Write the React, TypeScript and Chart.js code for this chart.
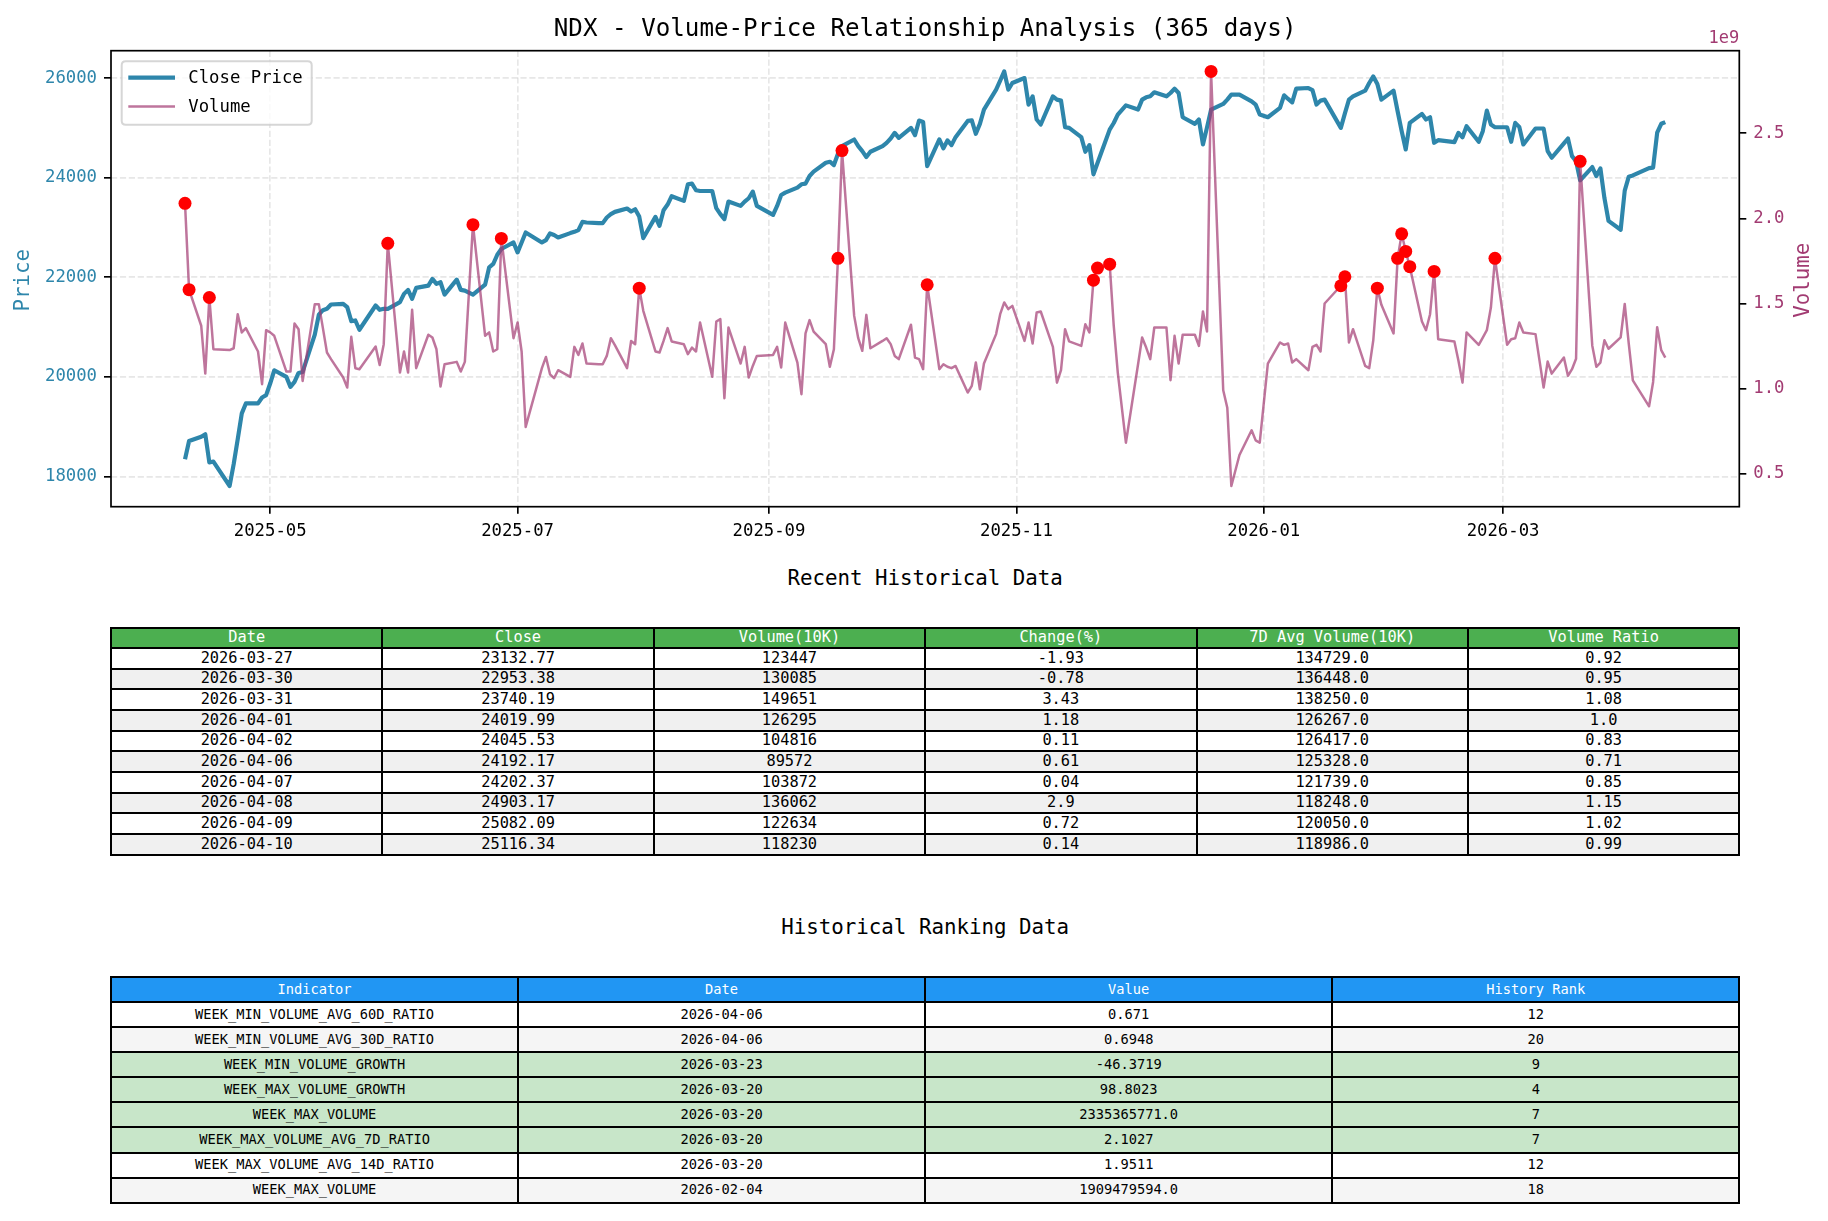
import React, { useEffect, useRef } from 'react';
import { Chart, registerables } from 'chart.js';

Chart.register(...registerables);

const FONT = '"DejaVu Sans Mono", "Liberation Mono", monospace';
const PRICE_COLOR = '#2E86AB';
const VOLUME_COLOR = '#A23B72';
const VOLUME_LINE = 'rgba(162,59,114,0.7)';
const GRID_COLOR = 'rgba(176,176,176,0.3)';

// ---------- chart data ----------
const dates = [
  '2025-04-10','2025-04-11','2025-04-14','2025-04-15','2025-04-16','2025-04-17','2025-04-21','2025-04-22','2025-04-23','2025-04-24','2025-04-25','2025-04-28','2025-04-29','2025-04-30',
  '2025-05-01','2025-05-02','2025-05-05','2025-05-06','2025-05-07','2025-05-08','2025-05-09','2025-05-12','2025-05-13','2025-05-14','2025-05-15','2025-05-16','2025-05-19','2025-05-20','2025-05-21','2025-05-22','2025-05-23','2025-05-27','2025-05-28','2025-05-29','2025-05-30',
  '2025-06-02','2025-06-03','2025-06-04','2025-06-05','2025-06-06','2025-06-09','2025-06-10','2025-06-11','2025-06-12','2025-06-13','2025-06-16','2025-06-17','2025-06-18','2025-06-20','2025-06-23','2025-06-24','2025-06-25','2025-06-26','2025-06-27','2025-06-30',
  '2025-07-01','2025-07-02','2025-07-03','2025-07-07','2025-07-08','2025-07-09','2025-07-10','2025-07-11','2025-07-14','2025-07-15','2025-07-16','2025-07-17','2025-07-18','2025-07-21','2025-07-22','2025-07-23','2025-07-24','2025-07-25','2025-07-28','2025-07-29','2025-07-30','2025-07-31',
  '2025-08-01','2025-08-04','2025-08-05','2025-08-06','2025-08-07','2025-08-08','2025-08-11','2025-08-12','2025-08-13','2025-08-14','2025-08-15','2025-08-18','2025-08-19','2025-08-20','2025-08-21','2025-08-22','2025-08-25','2025-08-26','2025-08-27','2025-08-28','2025-08-29',
  '2025-09-02','2025-09-03','2025-09-04','2025-09-05','2025-09-08','2025-09-09','2025-09-10','2025-09-11','2025-09-12','2025-09-15','2025-09-16','2025-09-17','2025-09-18','2025-09-19','2025-09-22','2025-09-23','2025-09-24','2025-09-25','2025-09-26','2025-09-29','2025-09-30',
  '2025-10-01','2025-10-02','2025-10-03','2025-10-06','2025-10-07','2025-10-08','2025-10-09','2025-10-10','2025-10-13','2025-10-14','2025-10-15','2025-10-16','2025-10-17','2025-10-20','2025-10-21','2025-10-22','2025-10-23','2025-10-24','2025-10-27','2025-10-28','2025-10-29','2025-10-30','2025-10-31',
  '2025-11-03','2025-11-04','2025-11-05','2025-11-06','2025-11-07','2025-11-10','2025-11-11','2025-11-12','2025-11-13','2025-11-14','2025-11-17','2025-11-18','2025-11-19','2025-11-20','2025-11-21','2025-11-24','2025-11-25','2025-11-26','2025-11-28',
  '2025-12-01','2025-12-02','2025-12-03','2025-12-04','2025-12-05','2025-12-08','2025-12-09','2025-12-10','2025-12-11','2025-12-12','2025-12-15','2025-12-16','2025-12-17','2025-12-18','2025-12-19','2025-12-22','2025-12-23','2025-12-24','2025-12-26','2025-12-29','2025-12-30','2025-12-31',
  '2026-01-02','2026-01-05','2026-01-06','2026-01-07','2026-01-08','2026-01-09','2026-01-12','2026-01-13','2026-01-14','2026-01-15','2026-01-16','2026-01-20','2026-01-21','2026-01-22','2026-01-23','2026-01-26','2026-01-27','2026-01-28','2026-01-29','2026-01-30',
  '2026-02-02','2026-02-03','2026-02-04','2026-02-05','2026-02-06','2026-02-09','2026-02-10','2026-02-11','2026-02-12','2026-02-13','2026-02-17','2026-02-18','2026-02-19','2026-02-20','2026-02-23','2026-02-24','2026-02-25','2026-02-26','2026-02-27',
  '2026-03-02','2026-03-03','2026-03-04','2026-03-05','2026-03-06','2026-03-09','2026-03-10','2026-03-11','2026-03-12','2026-03-13','2026-03-16','2026-03-17','2026-03-18','2026-03-19','2026-03-20','2026-03-23','2026-03-24','2026-03-25','2026-03-26','2026-03-27','2026-03-30','2026-03-31',
  '2026-04-01','2026-04-02','2026-04-06','2026-04-07','2026-04-08','2026-04-09','2026-04-10',
];

const closes = [
  18347, 18713, 18800, 18849, 18281, 18300, 17810, 18247, 18750, 19267, 19467, 19467, 19587, 19633,
  19867, 20133, 20000, 19800, 19900, 20080, 20100, 20850, 21250, 21340, 21367, 21453, 21467, 21400, 21120, 21133, 20947, 21433, 21347, 21367, 21367,
  21500, 21667, 21747, 21567, 21787, 21833, 21967, 21867, 21900, 21653, 21953, 21747, 21733, 21653, 21853, 22200, 22267, 22453, 22567, 22700,
  22500, 22700, 22900, 22700, 22747, 22880, 22850, 22800, 22887, 22913, 22947, 23113, 23100, 23087, 23087, 23200, 23267, 23313, 23380, 23320, 23367, 23220,
  22787, 23213, 23033, 23347, 23460, 23628, 23533, 23867, 23880, 23747, 23733, 23733, 23387, 23267, 23167, 23520, 23433, 23520, 23587, 23720, 23433,
  23253, 23433, 23653, 23700, 23800, 23867, 23880, 24033, 24120, 24300, 24320, 24253, 24480, 24633, 24767, 24633, 24533, 24413, 24520, 24633, 24700,
  24787, 24900, 24800, 25000, 24853, 25147, 25120, 24233, 24767, 24587, 24747, 24653, 24813, 25140, 25150, 24880, 25080, 25367, 25767, 25947, 26133, 25767, 25900,
  26000, 25467, 25633, 25167, 25067, 25633, 25567, 25547, 25013, 25000, 24813, 24520, 24653, 24067, 24295, 24964, 25097, 25265, 25452,
  25367, 25567, 25613, 25633, 25713, 25633, 25700, 25787, 25700, 25213, 25080, 25167, 24667, 25010, 25365, 25480, 25567, 25667, 25667, 25533, 25467, 25267,
  25213, 25400, 25653, 25580, 25513, 25787, 25800, 25760, 25467, 25547, 25567, 25000, 25290, 25567, 25633, 25747, 25900, 26033, 25880, 25567,
  25747, 25333, 24933, 24567, 25100, 25280, 25167, 25213, 24700, 24753, 24713, 24900, 24810, 25033, 24720, 24933, 25347, 25067, 25013,
  25013, 24720, 25100, 25020, 24667, 24987, 24987, 24987, 24533, 24400, 24690, 24787, 24433, 24333, 23947, 24213, 24033, 24187, 23588, 23132.77, 22953.38, 23740.19,
  24019.99, 24045.53, 24192.17, 24202.37, 24903.17, 25082.09, 25116.34,
];

// volume in units of 1e9 shares
const volumes = [
  2.088, 1.581, 1.369, 1.088, 1.535, 1.231, 1.226, 1.237, 1.437, 1.330, 1.355, 1.218, 1.026, 1.343,
  1.330, 1.310, 1.100, 1.100, 1.382, 1.349, 1.045, 1.496, 1.496, 1.355, 1.212, 1.173, 1.065, 1.006, 1.304, 1.120, 1.114, 1.247, 1.139, 1.261, 1.853,
  1.094, 1.218, 1.094, 1.463, 1.120, 1.316, 1.300, 1.231, 1.012, 1.143, 1.157, 1.100, 1.157, 1.963, 1.310, 1.330, 1.218, 1.231, 1.882, 1.296,
  1.388, 1.218, 0.775, 1.120, 1.186, 1.084, 1.061, 1.108, 1.069, 1.245, 1.198, 1.265, 1.147, 1.143, 1.143, 1.192, 1.296, 1.255, 1.120, 1.280, 1.261, 1.590,
  1.457, 1.218, 1.212, 1.280, 1.355, 1.277, 1.261, 1.202, 1.241, 1.218, 1.388, 1.069, 1.394, 1.408, 0.943, 1.359, 1.147, 1.245, 1.065, 1.133, 1.192,
  1.198, 1.245, 1.124, 1.388, 1.153, 0.967, 1.324, 1.402, 1.335, 1.261, 1.128, 1.231, 1.765, 2.398, 1.427, 1.296, 1.222, 1.433, 1.237, 1.280, 1.296,
  1.261, 1.192, 1.173, 1.375, 1.182, 1.173, 1.114, 1.610, 1.114, 1.143, 1.128, 1.120, 1.133, 0.977, 1.016, 1.153, 0.996, 1.147, 1.320, 1.437, 1.506, 1.467, 1.486,
  1.280, 1.388, 1.265, 1.447, 1.453, 1.245, 1.035, 1.108, 1.349, 1.277, 1.251, 1.378, 1.330, 1.637, 1.708, 1.731, 1.370, 1.094, 0.682,
  1.143, 1.300, 1.241, 1.173, 1.359, 1.359, 1.049, 1.310, 1.147, 1.316, 1.316, 1.251, 1.453, 1.335, 2.863, 0.990, 0.888, 0.428, 0.610, 0.755, 0.696, 0.682,
  1.147, 1.271, 1.257, 1.265, 1.153, 1.173, 1.108, 1.245, 1.257, 1.218, 1.500, 1.604, 1.657, 1.271, 1.349, 1.133, 1.120, 1.284, 1.590, 1.492,
  1.324, 1.765, 1.909, 1.806, 1.716, 1.394, 1.343, 1.437, 1.688, 1.290, 1.277, 1.163, 1.035, 1.330, 1.257, 1.300, 1.343, 1.476, 1.765,
  1.257, 1.290, 1.296, 1.388, 1.330, 1.320, 1.163, 1.006, 1.159, 1.088, 1.182, 1.075, 1.114, 1.175, 2.335, 1.252, 1.128, 1.153, 1.284, 1.234, 1.301, 1.497,
  1.263, 1.048, 0.896, 1.039, 1.361, 1.226, 1.182,
];

const anomalyDates = [
  '2025-04-10','2025-04-11','2025-04-16','2025-05-30','2025-06-20','2025-06-27','2025-07-31','2025-09-18','2025-09-19','2025-10-10',
  '2025-11-20','2025-11-21','2025-11-24','2025-12-19','2026-01-20','2026-01-21','2026-01-29','2026-02-03','2026-02-04','2026-02-05',
  '2026-02-06','2026-02-12','2026-02-27','2026-03-20',
];

const xTickLabels = ['2025-05', '2025-07', '2025-09', '2025-11', '2026-01', '2026-03'];
const priceTicks = [18000, 20000, 22000, 24000, 26000];
const volumeTicks = [0.5, 1.0, 1.5, 2.0, 2.5];

// ---------- table data ----------
const recentHeaders = ['Date', 'Close', 'Volume(10K)', 'Change(%)', '7D Avg Volume(10K)', 'Volume Ratio'];
const recentDates = ['2026-03-27','2026-03-30','2026-03-31','2026-04-01','2026-04-02','2026-04-06','2026-04-07','2026-04-08','2026-04-09','2026-04-10'];
const recentCloses = ['23132.77','22953.38','23740.19','24019.99','24045.53','24192.17','24202.37','24903.17','25082.09','25116.34'];
const recentVolumes = ['123447','130085','149651','126295','104816','89572','103872','136062','122634','118230'];
const recentChanges = ['-1.93','-0.78','3.43','1.18','0.11','0.61','0.04','2.9','0.72','0.14'];
const recentAvgVolumes = ['134729.0','136448.0','138250.0','126267.0','126417.0','125328.0','121739.0','118248.0','120050.0','118986.0'];
const recentRatios = ['0.92','0.95','1.08','1.0','0.83','0.71','0.85','1.15','1.02','0.99'];

const rankHeaders = ['Indicator', 'Date', 'Value', 'History Rank'];
const rankIndicators = ['WEEK_MIN_VOLUME_AVG_60D_RATIO','WEEK_MIN_VOLUME_AVG_30D_RATIO','WEEK_MIN_VOLUME_GROWTH','WEEK_MAX_VOLUME_GROWTH','WEEK_MAX_VOLUME','WEEK_MAX_VOLUME_AVG_7D_RATIO','WEEK_MAX_VOLUME_AVG_14D_RATIO','WEEK_MAX_VOLUME'];
const rankDates = ['2026-04-06','2026-04-06','2026-03-23','2026-03-20','2026-03-20','2026-03-20','2026-03-20','2026-02-04'];
const rankValues = ['0.671','0.6948','-46.3719','98.8023','2335365771.0','2.1027','1.9511','1909479594.0'];
const rankRanks = ['12','20','9','4','7','7','12','18'];

// ---------- helpers ----------
const dayNum = (s: string) => Date.parse(s + 'T00:00:00Z') / 86400000;

const CANVAS_W = 1828;
const CANVAS_H = 560;
const PLOT = { left: 111, top: 50.7, right: 1739.3, bottom: 506.7 };

function margins(vals: number[], frac = 0.05) {
  const mn = Math.min(...vals);
  const mx = Math.max(...vals);
  const pad = (mx - mn) * frac;
  return [mn - pad, mx + pad];
}

const decorPlugin = {
  id: 'decor',
  afterDatasetsDraw(chart: any) {
    const { ctx, chartArea: a } = chart;
    ctx.save();
    ctx.strokeStyle = '#000';
    ctx.lineWidth = 1.7;
    ctx.strokeRect(a.left, a.top, a.right - a.left, a.bottom - a.top);
    ctx.restore();
  },
  afterDraw(chart: any) {
    const { ctx, chartArea: a } = chart;
    ctx.save();
    // axis titles
    ctx.font = `20.8px ${FONT}`;
    ctx.textAlign = 'center';
    ctx.textBaseline = 'middle';
    const midY = (a.top + a.bottom) / 2 + 1.5;
    ctx.fillStyle = PRICE_COLOR;
    ctx.save();
    ctx.translate(24, midY);
    ctx.rotate(-Math.PI / 2);
    ctx.fillText('Price', 0, 0);
    ctx.restore();
    ctx.fillStyle = VOLUME_COLOR;
    ctx.save();
    ctx.translate(1804, midY);
    ctx.rotate(-Math.PI / 2);
    ctx.fillText('Volume', 0, 0);
    ctx.restore();
    // offset text
    ctx.font = `17px ${FONT}`;
    ctx.textAlign = 'right';
    ctx.fillStyle = VOLUME_COLOR;
    ctx.fillText('1e9', a.right, 38.5);

    // legend
    const lx = a.left + 10.7;
    const ly = a.top + 10.6;
    const lw = 190;
    const lh = 63.4;
    const r = 4;
    ctx.beginPath();
    ctx.moveTo(lx + r, ly);
    ctx.lineTo(lx + lw - r, ly);
    ctx.quadraticCurveTo(lx + lw, ly, lx + lw, ly + r);
    ctx.lineTo(lx + lw, ly + lh - r);
    ctx.quadraticCurveTo(lx + lw, ly + lh, lx + lw - r, ly + lh);
    ctx.lineTo(lx + r, ly + lh);
    ctx.quadraticCurveTo(lx, ly + lh, lx, ly + lh - r);
    ctx.lineTo(lx, ly + r);
    ctx.quadraticCurveTo(lx, ly, lx + r, ly);
    ctx.closePath();
    ctx.fillStyle = 'rgba(255,255,255,0.8)';
    ctx.fill();
    ctx.strokeStyle = 'rgba(204,204,204,0.8)';
    ctx.lineWidth = 2;
    ctx.stroke();

    const ds = chart.data.datasets;
    const items = [ds[0], ds[1]];
    const rowsY = [ly + 16.4, ly + 45.2];
    items.forEach((d: any, i: number) => {
      ctx.beginPath();
      ctx.strokeStyle = d.borderColor;
      ctx.lineWidth = d.borderWidth;
      ctx.lineCap = 'butt';
      ctx.moveTo(lx + 6.6, rowsY[i]);
      ctx.lineTo(lx + 53.3, rowsY[i]);
      ctx.stroke();
      ctx.font = `17.3px ${FONT}`;
      ctx.fillStyle = '#000';
      ctx.textAlign = 'left';
      ctx.textBaseline = 'middle';
      ctx.fillText(d.label, lx + 66.6, rowsY[i] + 1);
    });
    ctx.restore();
  },
};

function buildConfig(): any {
  const pricePoints = dates.map((d, i) => ({ x: dayNum(d), y: closes[i] }));
  const volumePoints = dates.map((d, i) => ({ x: dayNum(d), y: volumes[i] }));
  const anomalyPoints = anomalyDates.map((d) => ({ x: dayNum(d), y: volumes[dates.indexOf(d)] }));
  const [xMin, xMax] = margins(dates.map(dayNum));
  const [pMin, pMax] = margins(closes);
  const [vMin, vMax] = margins(volumes);

  const tickFont = { family: FONT, size: 17.3 };
  const gridBase = {
    color: GRID_COLOR,
    lineWidth: 1.67,
    tickColor: '#000',
    tickLength: 7,
    tickWidth: 1.67,
  };
  const borderBase = { display: false, dash: [6.2, 2.7] };

  return {
    type: 'line',
    data: {
      datasets: [
        {
          label: 'Close Price',
          data: pricePoints,
          yAxisID: 'y',
          borderColor: PRICE_COLOR,
          borderWidth: 4.17,
          pointRadius: 0,
          tension: 0,
          borderJoinStyle: 'round',
          order: 3,
        },
        {
          label: 'Volume',
          data: volumePoints,
          yAxisID: 'y1',
          borderColor: VOLUME_LINE,
          borderWidth: 2.5,
          pointRadius: 0,
          tension: 0,
          borderJoinStyle: 'round',
          order: 2,
        },
        {
          label: 'Anomaly',
          type: 'scatter',
          data: anomalyPoints,
          yAxisID: 'y1',
          backgroundColor: '#ff0000',
          borderWidth: 0,
          pointRadius: 6.5,
          showLine: false,
          order: 1,
        },
      ],
    },
    options: {
      animation: false,
      responsive: false,
      maintainAspectRatio: false,
      devicePixelRatio: 1,
      events: [],
      layout: { padding: { top: PLOT.top, left: 0, right: 0, bottom: 0 } },
      plugins: {
        legend: { display: false },
        tooltip: { enabled: false },
        title: { display: false },
      },
      scales: {
        x: {
          type: 'linear',
          position: 'bottom',
          min: xMin,
          max: xMax,
          afterBuildTicks: (s: any) => {
            s.ticks = xTickLabels.map((l) => ({ value: dayNum(l + '-01') }));
          },
          afterFit: (s: any) => {
            s.height = CANVAS_H - PLOT.bottom;
          },
          ticks: {
            font: tickFont,
            color: '#000',
            padding: 7,
            maxRotation: 0,
            autoSkip: false,
            callback: (_v: any, i: number) => xTickLabels[i],
          },
          grid: { ...gridBase },
          border: { ...borderBase },
        },
        y: {
          type: 'linear',
          position: 'left',
          min: pMin,
          max: pMax,
          afterBuildTicks: (s: any) => {
            s.ticks = priceTicks.map((v) => ({ value: v }));
          },
          afterFit: (s: any) => {
            s.width = PLOT.left;
          },
          ticks: {
            font: tickFont,
            color: PRICE_COLOR,
            padding: 7,
            callback: (v: any) => String(v),
          },
          grid: { ...gridBase },
          border: { ...borderBase },
        },
        y1: {
          type: 'linear',
          position: 'right',
          min: vMin,
          max: vMax,
          afterBuildTicks: (s: any) => {
            s.ticks = volumeTicks.map((v) => ({ value: v }));
          },
          afterFit: (s: any) => {
            s.width = CANVAS_W - PLOT.right;
          },
          ticks: {
            font: tickFont,
            color: VOLUME_COLOR,
            padding: 7,
            callback: (v: any) => Number(v).toFixed(1),
          },
          grid: { ...gridBase, drawOnChartArea: false },
          border: { ...borderBase },
        },
      },
    },
    plugins: [decorPlugin],
  };
}

type TableProps = {
  top: number;
  rowH: number;
  headers: string[];
  columns: string[][];
  headerBg: string;
  rowBg: (r: number) => string;
  fontSize: number;
};

function GridTable({ top, rowH, headers, columns, headerBg, rowBg, fontSize }: TableProps) {
  const left = PLOT.left;
  const width = PLOT.right - PLOT.left;
  const nCols = headers.length;
  const colW = width / nCols;
  const nRows = columns[0].length;
  const cells: any[] = [];
  const mk = (r: number, c: number, text: string, bg: string, color: string) => (
    <div
      key={`${r}-${c}`}
      style={{
        position: 'absolute',
        left: left + c * colW - 1,
        top: top + r * rowH - 1,
        width: colW + 2,
        height: rowH + 2,
        boxSizing: 'border-box',
        border: '2px solid #000',
        background: bg,
        color,
        display: 'flex',
        alignItems: 'center',
        justifyContent: 'center',
        fontSize,
        lineHeight: 1,
        whiteSpace: 'nowrap',
      }}
    >
      {text}
    </div>
  );
  headers.forEach((h, c) => cells.push(mk(0, c, h, headerBg, '#fff')));
  for (let r = 0; r < nRows; r++) {
    for (let c = 0; c < nCols; c++) {
      cells.push(mk(r + 1, c, columns[c][r], rowBg(r), '#000'));
    }
  }
  return <>{cells}</>;
}

export default function App() {
  const canvasRef = useRef<HTMLCanvasElement | null>(null);

  useEffect(() => {
    if (!canvasRef.current) return;
    const chart = new Chart(canvasRef.current, buildConfig());
    return () => chart.destroy();
  }, []);

  const titleStyle = (top: number, size: number): any => ({
    position: 'absolute',
    left: PLOT.left,
    width: PLOT.right - PLOT.left,
    top,
    height: 30,
    lineHeight: '30px',
    textAlign: 'center',
    fontSize: size,
    color: '#000',
    whiteSpace: 'nowrap',
  });

  return (
    <div
      style={{
        position: 'absolute',
        left: 0,
        top: 0,
        width: 1828,
        height: 1221,
        background: '#fff',
        fontFamily: FONT,
        overflow: 'hidden',
      }}
    >
      <canvas
        ref={canvasRef}
        width={CANVAS_W}
        height={CANVAS_H}
        style={{ position: 'absolute', left: 0, top: 0, width: CANVAS_W, height: CANVAS_H }}
      />
      <div style={titleStyle(13, 24.2)}>NDX - Volume-Price Relationship Analysis (365 days)</div>
      <div style={titleStyle(562.5, 20.8)}>Recent Historical Data</div>
      <div style={titleStyle(912, 20.8)}>Historical Ranking Data</div>
      <GridTable
        top={627.5}
        rowH={20.65}
        headers={recentHeaders}
        columns={[recentDates, recentCloses, recentVolumes, recentChanges, recentAvgVolumes, recentRatios]}
        headerBg="#4CAF50"
        rowBg={(r) => (r % 2 === 1 ? '#f0f0f0' : '#ffffff')}
        fontSize={15.3}
      />
      <GridTable
        top={977}
        rowH={25.08}
        headers={rankHeaders}
        columns={[rankIndicators, rankDates, rankValues, rankRanks]}
        headerBg="#2196F3"
        rowBg={(r) => (parseInt(rankRanks[r], 10) <= 10 ? '#C8E6C9' : r % 2 === 1 ? '#f5f5f5' : '#ffffff')}
        fontSize={13.7}
      />
    </div>
  );
}
